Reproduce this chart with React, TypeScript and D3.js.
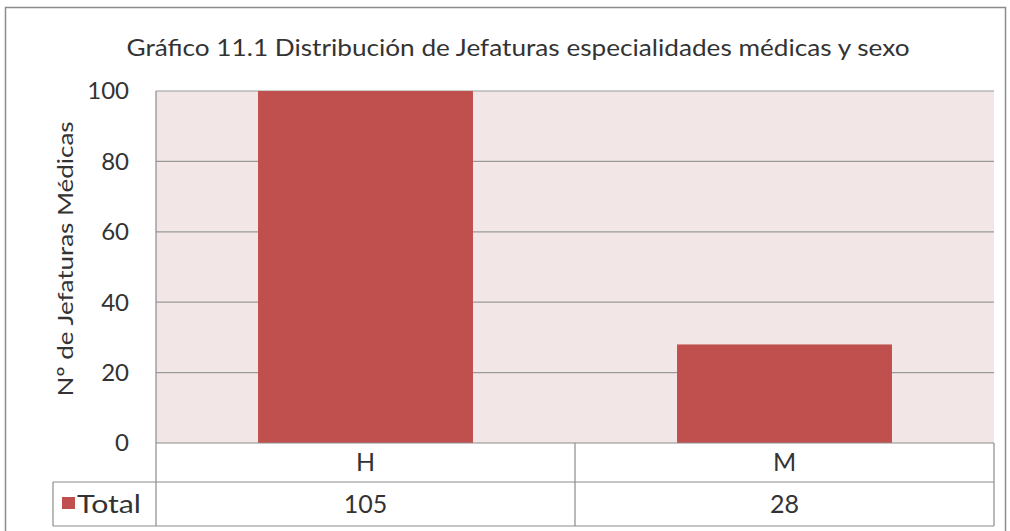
import React, { useRef, useEffect } from 'react';
import * as d3 from 'd3';

const title = 'Gráfico 11.1 Distribución de Jefaturas especialidades médicas y sexo';
const yTitle = 'Nº de Jefaturas Médicas';
const categories = ['H', 'M'];
const totals = [105, 28];
const seriesName = 'Total';
const yTicks = [0, 20, 40, 60, 80, 100];

const W = 1010;
const H = 531;
const FONT = 'Lato, "Open Sans", sans-serif';

export default function App() {
  const svgRef = useRef<SVGSVGElement>(null);

  useEffect(() => {
    const svg = d3.select(svgRef.current);
    svg.selectAll('*').remove();

    const plot = { left: 156, top: 91, right: 994, bottom: 443 };
    const tableLeft = 53;
    const rowMid = 482;
    const tableBottom = 526;

    const x = d3.scaleBand().domain(categories).range([plot.left, plot.right]).paddingInner(0.487).paddingOuter(0.2435);
    const y = d3.scaleLinear().domain([0, 100]).range([plot.bottom, plot.top]);

    svg.append('rect').attr('width', W).attr('height', H).attr('fill', '#fff');
    // outer chart border
    svg.append('rect')
      .attr('x', 5.5).attr('y', 7.5).attr('width', 1000).attr('height', 530)
      .attr('fill', 'none').attr('stroke', '#8c8c8c').attr('stroke-width', 1.5);

    svg.append('text')
      .attr('x', 518).attr('y', 56)
      .attr('text-anchor', 'middle')
      .attr('font-family', FONT).attr('font-size', 23.5).attr('fill', '#333')
      .attr('textLength', 783).attr('lengthAdjust', 'spacingAndGlyphs')
      .text(title);

    // plot background
    svg.append('rect')
      .attr('x', plot.left).attr('y', plot.top)
      .attr('width', plot.right - plot.left).attr('height', plot.bottom - plot.top)
      .attr('fill', '#f2e6e6');

    // gridlines
    svg.append('g').selectAll('line').data(yTicks.filter(d => d > 0)).enter().append('line')
      .attr('x1', plot.left).attr('x2', plot.right)
      .attr('y1', d => y(d)).attr('y2', d => y(d))
      .attr('stroke', '#9a9a9a').attr('stroke-width', 1.2);

    svg.append('defs').append('clipPath').attr('id', 'plotClip')
      .append('rect')
      .attr('x', plot.left).attr('y', plot.top)
      .attr('width', plot.right - plot.left).attr('height', plot.bottom - plot.top);

    svg.append('g').attr('clip-path', 'url(#plotClip)')
      .selectAll('rect').data(totals).enter().append('rect')
      .attr('x', (d, i) => x(categories[i]) as number)
      .attr('width', x.bandwidth())
      .attr('y', d => y(d))
      .attr('height', d => plot.bottom - y(d))
      .attr('fill', '#c0504d');

    // plot left border
    svg.append('line')
      .attr('x1', plot.left).attr('x2', plot.left)
      .attr('y1', plot.top).attr('y2', tableBottom)
      .attr('stroke', '#8c8c8c').attr('stroke-width', 1.2);

    // y tick labels
    svg.append('g').selectAll('text').data(yTicks).enter().append('text')
      .attr('x', 129).attr('y', d => y(d))
      .attr('dy', '0.35em')
      .attr('text-anchor', 'end')
      .attr('font-family', FONT).attr('font-size', 24).attr('fill', '#333')
      .text(d => d);

    svg.append('text')
      .attr('transform', `translate(73,${(plot.top + plot.bottom) / 2 - 8}) rotate(-90)`)
      .attr('text-anchor', 'middle')
      .attr('font-family', FONT).attr('font-size', 22).attr('fill', '#333')
      .attr('textLength', 275).attr('lengthAdjust', 'spacingAndGlyphs')
      .text(yTitle);

    // data table
    const tbl = svg.append('g').attr('stroke', '#8c8c8c').attr('stroke-width', 1.2);
    tbl.append('line').attr('x1', plot.left).attr('x2', plot.right).attr('y1', plot.bottom).attr('y2', plot.bottom);
    tbl.append('line').attr('x1', tableLeft).attr('x2', plot.right).attr('y1', rowMid).attr('y2', rowMid);
    tbl.append('line').attr('x1', tableLeft).attr('x2', plot.right).attr('y1', tableBottom).attr('y2', tableBottom);
    tbl.append('line').attr('x1', tableLeft).attr('x2', tableLeft).attr('y1', rowMid).attr('y2', tableBottom);
    tbl.append('line').attr('x1', plot.right).attr('x2', plot.right).attr('y1', plot.bottom).attr('y2', tableBottom);
    const step = (plot.right - plot.left) / categories.length;
    categories.slice(1).forEach((c, i) => {
      const xx = plot.left + step * (i + 1);
      tbl.append('line').attr('x1', xx).attr('x2', xx).attr('y1', plot.bottom).attr('y2', tableBottom);
    });

    svg.append('g').selectAll('text').data(categories).enter().append('text')
      .attr('x', d => (x(d) as number) + x.bandwidth() / 2)
      .attr('y', (plot.bottom + rowMid) / 2)
      .attr('dy', '0.35em').attr('text-anchor', 'middle')
      .attr('font-family', FONT).attr('font-size', 25).attr('fill', '#333')
      .text(d => d);

    svg.append('g').selectAll('text').data(totals).enter().append('text')
      .attr('x', (d, i) => (x(categories[i]) as number) + x.bandwidth() / 2)
      .attr('y', (rowMid + tableBottom) / 2)
      .attr('dy', '0.35em').attr('text-anchor', 'middle')
      .attr('font-family', FONT).attr('font-size', 25).attr('fill', '#333')
      .text(d => d);

    svg.append('rect')
      .attr('x', 62).attr('y', 497).attr('width', 13).attr('height', 12)
      .attr('fill', '#c0504d');
    svg.append('text')
      .attr('x', 77).attr('y', (rowMid + tableBottom) / 2)
      .attr('dy', '0.35em')
      .attr('font-family', FONT).attr('font-size', 25).attr('fill', '#333')
      .attr('textLength', 64).attr('lengthAdjust', 'spacingAndGlyphs')
      .text(seriesName);
  }, []);

  return (
    <svg ref={svgRef} width={W} height={H} style={{ position: 'absolute', left: 0, top: 0 }} />
  );
}
